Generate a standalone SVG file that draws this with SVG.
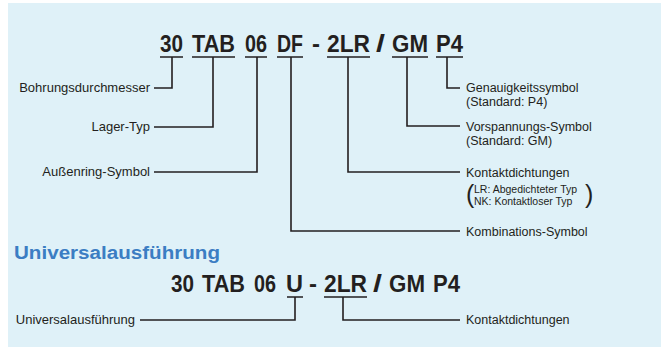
<svg xmlns="http://www.w3.org/2000/svg" width="666" height="347" viewBox="0 0 666 347">
<style>
.code{font-family:"Liberation Sans",Arial,sans-serif;font-weight:bold;font-size:24px;fill:#231f20}
.lbl{font-family:"Liberation Sans",Arial,sans-serif;font-size:12.5px;fill:#231f20}
.lblr{font-family:"Liberation Sans",Arial,sans-serif;font-size:13px;fill:#231f20;text-anchor:end}
.sm{font-family:"Liberation Sans",Arial,sans-serif;font-size:10.5px;fill:#231f20}
.par{font-family:"Liberation Sans",Arial,sans-serif;font-size:25px;fill:#231f20}
.head{font-family:"Liberation Sans",Arial,sans-serif;font-weight:bold;font-size:18px;fill:#3b7dc3}
.ln{fill:none;stroke:#231f20;stroke-width:1.6}
</style>
<rect x="8" y="3" width="653" height="344" fill="#dff1f8"/>
<g id="code-top">
<text class="code" x="160" y="52" textLength="23" lengthAdjust="spacingAndGlyphs">30</text>
<text class="code" x="192" y="52" textLength="43" lengthAdjust="spacingAndGlyphs">TAB</text>
<text class="code" x="245" y="52" textLength="22" lengthAdjust="spacingAndGlyphs">06</text>
<text class="code" x="277" y="52" textLength="26" lengthAdjust="spacingAndGlyphs">DF</text>
<text class="code" x="312" y="52" textLength="8" lengthAdjust="spacingAndGlyphs">-</text>
<text class="code" x="327" y="52" textLength="43" lengthAdjust="spacingAndGlyphs">2LR</text>
<text class="code" x="376" y="52" textLength="9" lengthAdjust="spacingAndGlyphs">/</text>
<text class="code" x="392" y="52" textLength="36" lengthAdjust="spacingAndGlyphs">GM</text>
<text class="code" x="436" y="52" textLength="27" lengthAdjust="spacingAndGlyphs">P4</text>
</g>
<g id="labels-left">
<text class="lblr" x="150" y="92">Bohrungsdurchmesser</text>
<text class="lblr" x="150" y="131">Lager-Typ</text>
<text class="lblr" x="150" y="176">Außenring-Symbol</text>
</g>
<g id="labels-right">
<text class="lbl" x="466" y="92">Genauigkeitssymbol</text>
<text class="lbl" x="466" y="105.5">(Standard: P4)</text>
<text class="lbl" x="466" y="131">Vorspannungs-Symbol</text>
<text class="lbl" x="466" y="144.5">(Standard: GM)</text>
<text class="lbl" x="466" y="177">Kontaktdichtungen</text>
<text class="par" x="466" y="203">(</text>
<text class="sm" x="474" y="193">LR: Abgedichteter Typ</text>
<text class="sm" x="474" y="205">NK: Kontaktloser Typ</text>
<text class="par" x="585" y="203">)</text>
<text class="lbl" x="466" y="236">Kombinations-Symbol</text>
</g>
<g id="header">
<text class="head" x="14" y="259" textLength="206" lengthAdjust="spacingAndGlyphs">Universalausführung</text>
</g>
<g id="code-bottom">
<text class="code" x="171" y="292" textLength="23" lengthAdjust="spacingAndGlyphs">30</text>
<text class="code" x="202" y="292" textLength="43" lengthAdjust="spacingAndGlyphs">TAB</text>
<text class="code" x="254" y="292" textLength="22" lengthAdjust="spacingAndGlyphs">06</text>
<text class="code" x="286" y="292" textLength="17" lengthAdjust="spacingAndGlyphs">U</text>
<text class="code" x="309" y="292" textLength="8" lengthAdjust="spacingAndGlyphs">-</text>
<text class="code" x="324" y="292" textLength="43" lengthAdjust="spacingAndGlyphs">2LR</text>
<text class="code" x="373" y="292" textLength="9" lengthAdjust="spacingAndGlyphs">/</text>
<text class="code" x="389" y="292" textLength="36" lengthAdjust="spacingAndGlyphs">GM</text>
<text class="code" x="433" y="292" textLength="27" lengthAdjust="spacingAndGlyphs">P4</text>
</g>
<g id="labels-bottom">
<text class="lblr" x="135" y="324">Universalausführung</text>
<text class="lbl" x="466" y="324">Kontaktdichtungen</text>
</g>
<g id="connectors">
<path class="ln" d="M160 57H183M192 57H235M245 57H267M277 57H303M327 57H370M392 57H428M436 57H463"/>
<path class="ln" d="M172 57V88H154"/>
<path class="ln" d="M213 57V127H154"/>
<path class="ln" d="M257 57V172H154"/>
<path class="ln" d="M291 57V231H460"/>
<path class="ln" d="M348 57V172H460"/>
<path class="ln" d="M407 57V126H460"/>
<path class="ln" d="M447 57V88H460"/>
<path class="ln" d="M287 297H303M324 297H367"/>
<path class="ln" d="M295 297V320H140"/>
<path class="ln" d="M343 297V320H460"/>
</g>
</svg>
